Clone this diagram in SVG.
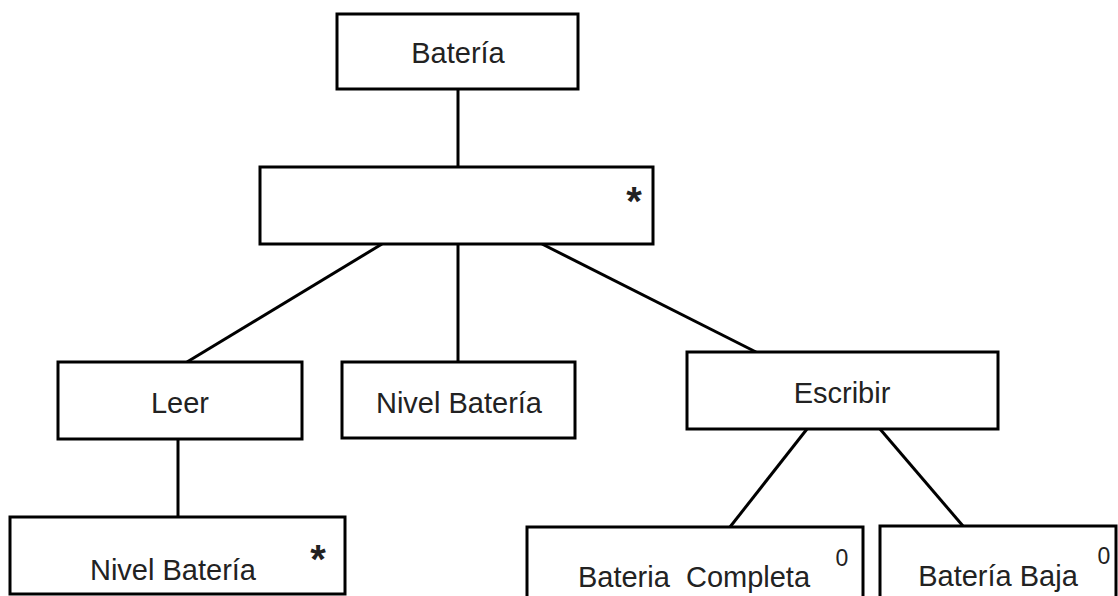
<svg xmlns="http://www.w3.org/2000/svg" width="1118" height="596" viewBox="0 0 1118 596">
  <style>
    .box { fill: #ffffff; stroke: #000000; stroke-width: 3; }
    .edge { stroke: #000000; stroke-width: 3; fill: none; }
    .label { font-family: "Liberation Sans", Arial, sans-serif; font-size: 29px; fill: #222222; text-anchor: middle; }
    .mark { font-family: "Liberation Sans", Arial, sans-serif; font-size: 40px; font-weight: bold; fill: #222222; text-anchor: middle; }
    .sup { font-family: "Liberation Sans", Arial, sans-serif; font-size: 23px; fill: #222222; text-anchor: middle; }
  </style>
  <rect width="1118" height="596" fill="#ffffff"/>

  <!-- connectors -->
  <g id="connectors">
    <line class="edge" x1="458" y1="89" x2="458" y2="167"/>
    <line class="edge" x1="382" y1="244" x2="187" y2="362"/>
    <line class="edge" x1="458" y1="244" x2="458" y2="362"/>
    <line class="edge" x1="542" y1="244" x2="756" y2="352"/>
    <line class="edge" x1="178" y1="439" x2="178" y2="517"/>
    <line class="edge" x1="807" y1="429" x2="730" y2="527"/>
    <line class="edge" x1="880" y1="429" x2="963" y2="526"/>
  </g>

  <g id="bateria">
    <rect class="box" x="337" y="14" width="241" height="75"/>
    <text class="label" x="458" y="63">Batería</text>
  </g>

  <g id="iteracion">
    <rect class="box" x="260" y="167" width="393" height="77"/>
    <text class="mark" x="634" y="215">*</text>
  </g>

  <g id="leer">
    <rect class="box" x="58" y="362" width="244" height="77"/>
    <text class="label" x="180" y="413">Leer</text>
  </g>

  <g id="nivel-bateria">
    <rect class="box" x="342" y="362" width="233" height="76"/>
    <text class="label" x="459" y="413">Nivel Batería</text>
  </g>

  <g id="escribir">
    <rect class="box" x="687" y="352" width="311" height="77"/>
    <text class="label" x="842" y="403">Escribir</text>
  </g>

  <g id="leer-nivel-bateria">
    <rect class="box" x="10" y="517" width="335" height="77"/>
    <text class="label" x="173" y="580">Nivel Batería</text>
    <text class="mark" x="318" y="573">*</text>
  </g>

  <g id="bateria-completa">
    <rect class="box" x="527" y="527" width="336" height="90"/>
    <text class="label" x="694" y="587" xml:space="preserve">Bateria  Completa</text>
    <text class="sup" x="842" y="566">0</text>
  </g>

  <g id="bateria-baja">
    <rect class="box" x="880" y="526" width="236" height="90"/>
    <text class="label" x="998" y="586">Batería Baja</text>
    <text class="sup" x="1104" y="564">0</text>
  </g>
</svg>
